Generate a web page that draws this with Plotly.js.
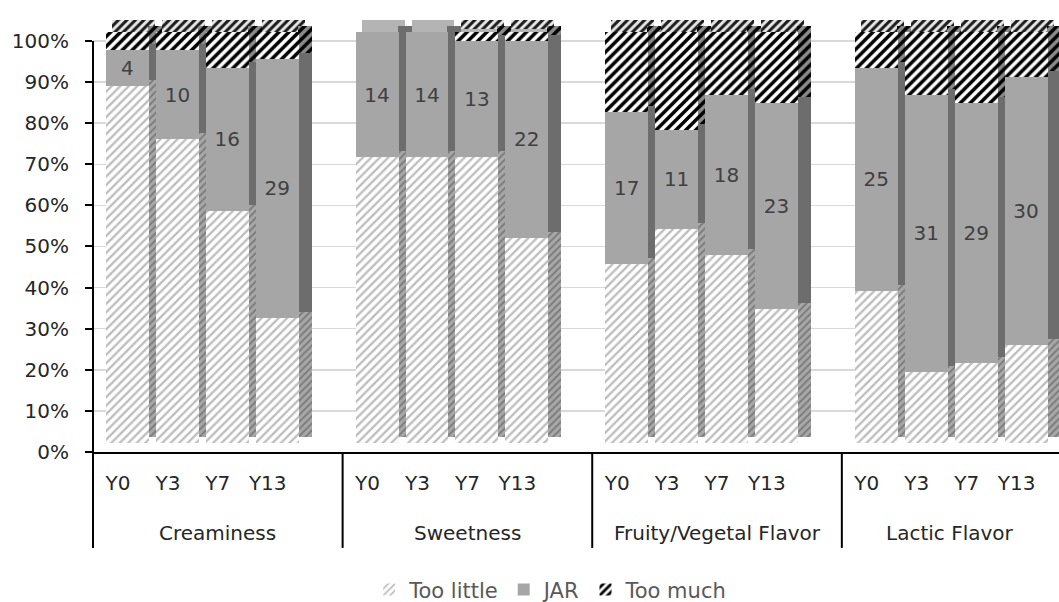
<!DOCTYPE html>
<html>
<head>
<meta charset="utf-8">
<script src="https://cdn.plot.ly/plotly-3.0.1.min.js"></script>
<style>html,body{margin:0;padding:0;background:#fff;}#chart{width:1059px;height:602px;}</style>
</head>
<body>
<div id="chart"></div>
<script>
// ---- data (counts per panel, n = 46) ----
const groups = ['Creaminess', 'Sweetness', 'Fruity/Vegetal Flavor', 'Lactic Flavor'];
const years = ['Y0', 'Y3', 'Y7', 'Y13'];
const tooLittle = [40, 34, 26, 14, 32, 32, 32, 23, 20, 24, 21, 15, 17, 8, 9, 11];
const jar       = [4, 10, 16, 29, 14, 14, 13, 22, 17, 11, 18, 23, 25, 31, 29, 30];
const tooMuch   = [2, 2, 4, 3, 0, 0, 1, 1, 9, 11, 7, 8, 4, 7, 8, 5];
const seriesNames = ['Too little', 'JAR', 'Too much'];

// ---- category positions (one blank slot between groups) ----
const xs = [], tickText = [];
groups.forEach((g, gi) => years.forEach((y, yi) => { xs.push(gi * (years.length + 1) + yi); tickText.push(y); }));

const FONT = 'DejaVu Sans';
const xRange = [-0.5, 18.85];
const frontW = 0.86, frontOff = -0.24;
const sideW = 0.28, sideOff = frontOff + frontW - 0.02;
const topOff = frontOff + 0.12;

const fills = {
  little: {color: '#ffffff', line: {width: 0},
    pattern: {shape: '/', fgcolor: '#bdbdbd', bgcolor: '#ffffff', size: 6, solidity: 0.38}},
  jar: {color: '#a6a6a6', line: {width: 0}},
  much: {color: '#ffffff', line: {width: 0},
    pattern: {shape: '/', fgcolor: '#000000', bgcolor: '#ffffff', size: 7, solidity: 0.5}}
};
const topFills = {
  little: fills.little,
  jar: {color: '#b4b4b4', line: {width: 0}},
  much: {color: '#ffffff', line: {width: 0},
    pattern: {shape: '/', fgcolor: '#1a1a1a', bgcolor: '#e8e8e8', size: 6, solidity: 0.5}}
};
const sideFills = {
  little: {color: '#a0a0a0', line: {width: 0},
    pattern: {shape: '/', fgcolor: '#7c7c7c', bgcolor: '#a8a8a8', size: 5, solidity: 0.4}},
  jar: {color: '#6d6d6d', line: {width: 0}},
  much: {color: '#555', line: {width: 0},
    pattern: {shape: '/', fgcolor: '#000000', bgcolor: '#8c8c8c', size: 7, solidity: 0.5}}
};

function bar(name, vals, yaxis, width, offset, marker, extra) {
  return Object.assign({
    type: 'bar', name: name, x: xs, y: vals, xaxis: 'x', yaxis: yaxis,
    width: width, offset: offset, marker: marker, hoverinfo: 'skip', showlegend: false
  }, extra || {});
}

const data = [
  // top faces (back copy raised)
  bar(seriesNames[0], tooLittle, 'y2', frontW, topOff, topFills.little),
  bar(seriesNames[1], jar, 'y2', frontW, topOff, topFills.jar),
  bar(seriesNames[2], tooMuch, 'y2', frontW, topOff, topFills.much),
  // side faces
  bar(seriesNames[0], tooLittle, 'y3', sideW, sideOff, sideFills.little),
  bar(seriesNames[1], jar, 'y3', sideW, sideOff, sideFills.jar),
  bar(seriesNames[2], tooMuch, 'y3', sideW, sideOff, sideFills.much),
  // front faces
  bar(seriesNames[0], tooLittle, 'y4', frontW, frontOff, fills.little, {showlegend: true}),
  bar(seriesNames[1], jar, 'y4', frontW, frontOff, fills.jar, {
    showlegend: true,
    text: jar, texttemplate: '%{text}', textposition: 'inside', insidetextanchor: 'middle',
    textangle: 0, textfont: {family: FONT, size: 20, color: '#404040'}
  }),
  bar(seriesNames[2], tooMuch, 'y4', frontW, frontOff, fills.much, {showlegend: true})
];

function px(v) { return (v - xRange[0]) / (xRange[1] - xRange[0]); }

const shapes = [
  {type: 'line', xref: 'paper', yref: 'y', x0: 0, x1: 0, y0: 0, y1: 100, line: {color: '#000', width: 2}}
];
groups.forEach((g, gi) => {
  const xb = gi * (years.length + 1) - 0.5;
  shapes.push({type: 'line', xref: 'paper', yref: 'paper', x0: px(xb), x1: px(xb), y0: 0, y1: -0.222,
    line: {color: '#000', width: 2}});
});
const annotations = groups.map((g, gi) => {
  const start = gi * (years.length + 1) - 0.5;
  const end = Math.min(start + years.length + 1, xRange[1]);
  return {text: g, xref: 'x', yref: 'paper', x: (start + end) / 2, y: -0.1875, yanchor: 'middle',
    showarrow: false, font: {family: FONT, size: 20, color: '#262626'}};
});

const layout = {
  width: 1059, height: 602,
  margin: {l: 93, r: 0, t: 20, b: 150},
  paper_bgcolor: '#fff', plot_bgcolor: '#fff',
  barmode: 'stack', barnorm: 'percent',
  showlegend: true,
  legend: {orientation: 'h', xref: 'container', yref: 'container', x: 0.52, xanchor: 'center',
    y: 0.02, yanchor: 'middle', traceorder: 'normal', itemwidth: 30,
    font: {family: FONT, size: 21, color: '#595959'}},
  xaxis: {range: xRange, tickmode: 'array', tickvals: xs, ticktext: tickText, showgrid: false,
    zeroline: false, showline: true, linecolor: '#000', linewidth: 2, ticks: '',
    ticklabelstandoff: 12, tickfont: {family: FONT, size: 20, color: '#262626'}, fixedrange: true},
  yaxis: {range: [0, 105.1], tick0: 0, dtick: 10, ticksuffix: '%', showgrid: true, gridcolor: '#d9d9d9',
    gridwidth: 1.5, zeroline: false, showline: false, ticks: 'outside', ticklen: 7, tickwidth: 2,
    tickcolor: '#000', ticklabelstandoff: 12, tickfont: {family: FONT, size: 20, color: '#262626'}, fixedrange: true},
  yaxis2: {overlaying: 'y', range: [-5.11, 100.0], visible: false, fixedrange: true},
  yaxis3: {overlaying: 'y', range: [-3.65, 101.46], visible: false, fixedrange: true},
  yaxis4: {overlaying: 'y', range: [-2.19, 102.92], visible: false, fixedrange: true},
  shapes: shapes,
  annotations: annotations,
  font: {family: FONT}
};

Plotly.newPlot('chart', data, layout, {displayModeBar: false, staticPlot: true});
</script>
</body>
</html>
